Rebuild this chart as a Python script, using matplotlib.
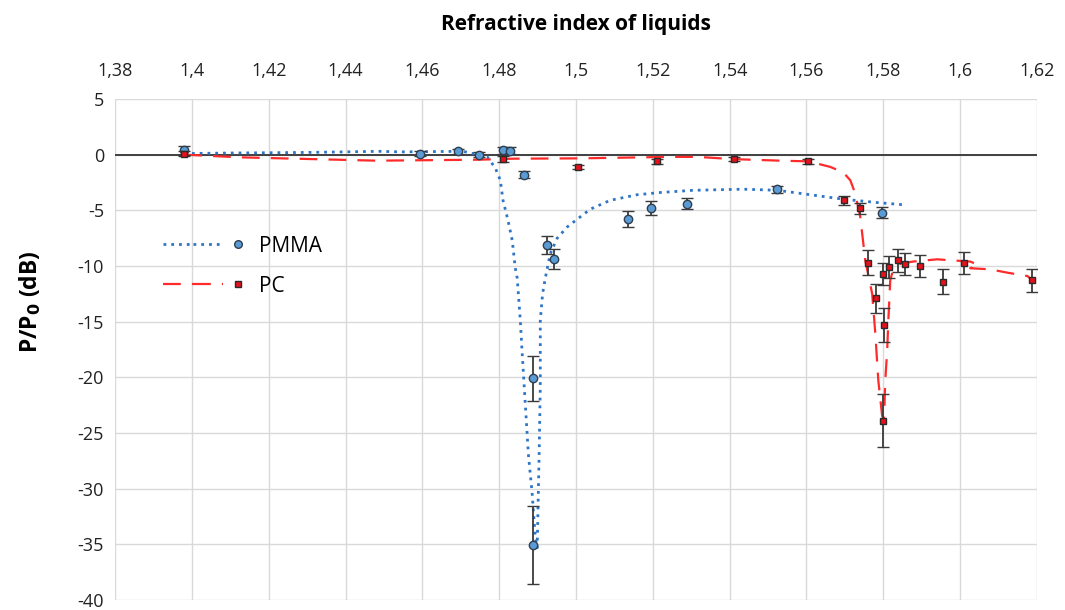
import matplotlib.pyplot as plt
from matplotlib.lines import Line2D
from matplotlib.legend_handler import HandlerTuple
from matplotlib.ticker import FuncFormatter
import numpy as np

# measured points (refractive index, P/P0 in dB, error)
pmma_n = [1.398, 1.4595, 1.4693, 1.4748, 1.481, 1.4829, 1.4865, 1.4889, 1.4889,
          1.4925, 1.4943, 1.5136, 1.5196, 1.529, 1.5524, 1.5797]
pmma_db = [0.4, 0.1, 0.3, 0.0, 0.4, 0.35, -1.8, -20.1, -35.1,
           -8.1, -9.4, -5.8, -4.8, -4.4, -3.1, -5.2]
pmma_err = [0.4, 0.2, 0.2, 0.2, 0.3, 0.3, 0.3, 2.0, 3.5,
            0.8, 0.9, 0.7, 0.6, 0.5, 0.3, 0.5]

pc_n = [1.398, 1.481, 1.5006, 1.5212, 1.541, 1.5605, 1.5698, 1.574, 1.576, 1.578,
        1.580, 1.5803, 1.5800, 1.5816, 1.5839, 1.5857, 1.5896, 1.5956, 1.6011, 1.6188]
pc_db = [0.1, -0.4, -1.1, -0.6, -0.4, -0.6, -4.1, -4.8, -9.7, -12.9,
         -10.7, -15.3, -23.9, -10.1, -9.5, -9.8, -10.0, -11.4, -9.7, -11.3]
pc_err = [0.2, 0.3, 0.2, 0.2, 0.2, 0.2, 0.4, 0.5, 1.1, 1.3,
          1.0, 1.5, 2.4, 1.0, 1.0, 1.0, 1.0, 1.1, 1.0, 1.0]

# fitted curves
pmma_fit_n = [1.398, 1.4107, 1.430, 1.449, 1.4542, 1.4706, 1.4769, 1.4790, 1.4803,
              1.4810, 1.4823, 1.4834, 1.4842, 1.4847, 1.4855, 1.4860, 1.4868, 1.4876,
              1.4886, 1.4894, 1.4899, 1.4904, 1.4907, 1.4907, 1.4913, 1.4920, 1.4933,
              1.4951, 1.4977, 1.5003, 1.5037, 1.5089, 1.5159, 1.5219, 1.5305, 1.5435,
              1.5524, 1.5610, 1.5696, 1.5784, 1.5852]
pmma_fit_db = [0.1, 0.15, 0.2, 0.3, 0.25, 0.3, -0.2, -1.2, -2.3,
               -4.1, -5.9, -7.7, -10.2, -11.1, -14.9, -17.9, -22.4, -26.9,
               -30.5, -34.4, -35.3, -26.9, -20.9, -14.9, -12.5, -11.1, -8.9,
               -7.5, -6.5, -5.8, -4.9, -4.1, -3.6, -3.4, -3.2, -3.1,
               -3.2, -3.6, -4.0, -4.3, -4.5]

pc_fit_n = [1.398, 1.4126, 1.4482, 1.4750, 1.4837, 1.5011, 1.5245, 1.5316, 1.5409,
            1.5532, 1.5605, 1.5662, 1.5696, 1.5714, 1.5727, 1.5740, 1.5748, 1.5753,
            1.5771, 1.5779, 1.5787, 1.5797, 1.5802, 1.5805, 1.5810, 1.5813, 1.5818,
            1.5824, 1.5844, 1.5878, 1.5940, 1.5982, 1.6026, 1.6047, 1.6026, 1.6078,
            1.6123, 1.6175, 1.6188]
pc_fit_db = [0.0, -0.24, -0.54, -0.45, -0.36, -0.33, -0.2, -0.2, -0.4,
             -0.54, -0.6, -1.1, -1.6, -2.3, -3.5, -5.6, -8.0, -9.5,
             -12.5, -16.0, -20.3, -23.5, -23.6, -20.3, -17.6, -14.9, -11.3,
             -10.5, -9.8, -9.6, -9.4, -9.5, -9.6, -9.9, -10.2, -10.3,
             -10.6, -10.9, -11.3]

x_ticks = np.arange(1.38, 1.6201, 0.02)
y_ticks = np.arange(-40, 5.1, 5)

blue_line = '#2E75C6'
blue_fill = '#5B9BD5'
red = '#FF2A2A'
err_col = '#3A3A3A'
dots = (0, (1, 1.8))
dashes = (0, (8, 5))

plt.rcParams['font.family'] = ['Open Sans', 'DejaVu Sans']

fig = plt.figure(figsize=(10.65, 6.1), dpi=100)
ax = fig.add_axes([0.108, 0.0164, 0.8657, 0.8213])

ax.set_xlim(1.38, 1.62)
ax.set_ylim(-40, 5)
ax.set_xticks(x_ticks)
ax.set_yticks(y_ticks)
ax.grid(True, color='#D9D9D9', linewidth=1.0)
ax.set_axisbelow(True)
for s in ax.spines.values():
    s.set_visible(False)
ax.axhline(0, color='#404040', linewidth=1.4, zorder=2)

ax.xaxis.tick_top()
ax.xaxis.set_label_position('top')
ax.tick_params(length=0, labelsize=13, colors='#222222')
ax.tick_params(axis='x', pad=14)
ax.tick_params(axis='y', pad=8)
ax.xaxis.set_major_formatter(FuncFormatter(lambda v, p: ('%g' % round(v, 2)).replace('.', ',')))
ax.yaxis.set_major_formatter(FuncFormatter(lambda v, p: '%d' % round(v)))

ax.set_xlabel('Refractive index of liquids', fontsize=15, fontweight='bold', labelpad=23)
ax.set_ylabel(r'P/P$_\mathbf{0}$ (dB)', fontsize=16.5, fontweight='bold')
ax.yaxis.set_label_coords(-0.078, 0.595)

ax.plot(pmma_fit_n, pmma_fit_db, linestyle=dots, color=blue_line, linewidth=2.0, zorder=3)
ax.plot(pc_fit_n, pc_fit_db, linestyle=dashes, color=red, linewidth=1.6, zorder=3)

ax.errorbar(pmma_n, pmma_db, yerr=pmma_err, fmt='o', ms=6, mfc=blue_fill, mec='#2F3F4F',
            mew=1.0, ecolor=err_col, elinewidth=1.3, capsize=4, capthick=1.3, zorder=4)
ax.errorbar(pc_n, pc_db, yerr=pc_err, fmt='s', ms=5, mfc='#E8101A', mec='#2A2A2A',
            mew=1.0, ecolor=err_col, elinewidth=1.3, capsize=4, capthick=1.3, zorder=5)

# legend: line then marker at its right end
pm_line = Line2D([], [], linestyle=dots, color=blue_line, linewidth=2.0)
pm_mark = Line2D([], [], linestyle='none', marker='o', ms=5.5, mfc=blue_fill, mec='#2F3F4F')
pc_line = Line2D([], [], linestyle=dashes, color=red, linewidth=1.6)
pc_mark = Line2D([], [], linestyle='none', marker='s', ms=4.5, mfc='#E8101A', mec='#2A2A2A')
leg = ax.legend([(pm_line, pm_line, pm_mark), (pc_line, pc_line, pc_mark)], ['PMMA', 'PC'],
                handler_map={tuple: HandlerTuple(ndivide=None, pad=0.0)},
                loc='upper left', bbox_to_anchor=(0.052, 0.727), frameon=False,
                borderaxespad=0, borderpad=0,
                fontsize=15, handlelength=4.3, labelspacing=0.9, handletextpad=0.3)

fig.savefig('out.png', dpi=100)
